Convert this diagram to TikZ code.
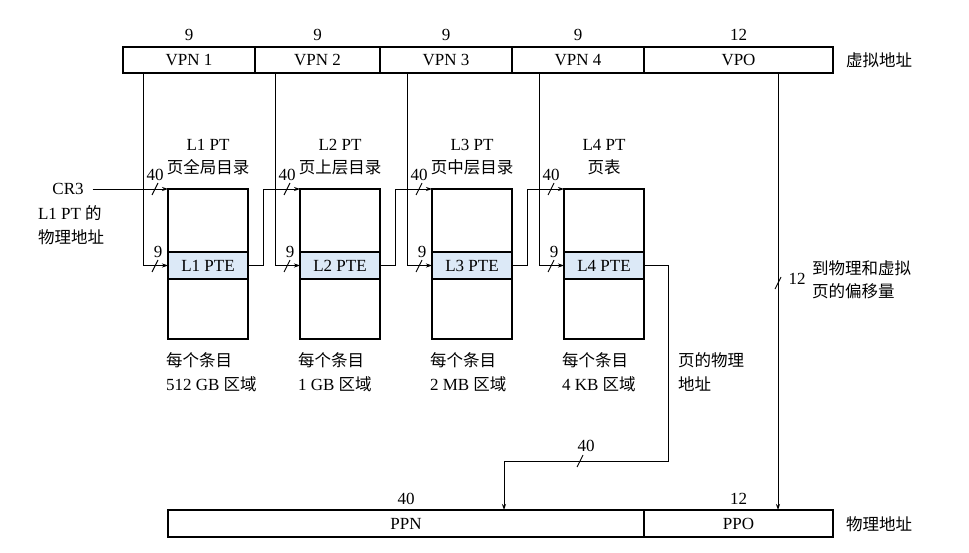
\documentclass[tikz,border=0pt]{standalone}
\usepackage{fontspec}
\setmainfont{Liberation Serif}
\newfontfamily\cjk{Noto Sans CJK SC}
\usetikzlibrary{arrows.meta,calc}
\definecolor{pteblue}{RGB}{220,233,247}
\newcommand{\lat}{\fontsize{17}{19}\selectfont}
\newcommand{\zh}[1]{{\cjk\fontsize{16.5}{19}\selectfont #1}}
\begin{document}
\begin{tikzpicture}[x=1pt,y=-1pt,
  every node/.style={inner sep=0pt,outer sep=0pt,font=\lat},
  cell/.style={draw,line width=1.3pt,minimum height=26pt},
  tbl/.style={draw,line width=1.6pt,minimum width=80pt},
  ptebox/.style={tbl,fill=pteblue,minimum height=27pt},
  conn/.style={line width=0.9pt},
  arr/.style={conn,-{Stealth[length=6pt,width=4pt]}},
  slash/.pic={\draw[line width=0.9pt] (-3,6) -- (3,-6);}
]
\useasboundingbox (0,0) rectangle (969,553);

% virtual address bar
\node[cell,minimum width=132pt] (vpn1) at (189,60) {VPN 1};
\node[cell,minimum width=125pt] (vpn2) at (317.5,60) {VPN 2};
\node[cell,minimum width=132pt] (vpn3) at (446,60) {VPN 3};
\node[cell,minimum width=132pt] (vpn4) at (578,60) {VPN 4};
\node[cell,minimum width=189pt] (vpo) at (738.5,60) {VPO};
\node (b1) at (189,35) {9};
\node (b2) at (317.5,35) {9};
\node (b3) at (446,35) {9};
\node (b4) at (578,35) {9};
\node (b5) at (738.5,35) {12};
\node[anchor=west] (va) at (846,60) {\zh{虚拟地址}};

% page tables
\foreach \i/\x/\nm/\sz in {1/208/页全局目录/512 GB,2/340/页上层目录/1 GB,3/472/页中层目录/2 MB,4/604/页表/4 KB}{
  \node[tbl,minimum height=63pt] (tt\i) at (\x,220.5) {};
  \node[ptebox] (pe\i) at (\x,265.5) {L\i\ PTE};
  \node[tbl,minimum height=60pt] (tb\i) at (\x,309) {};
  \node (h\i) at (\x,145) {L\i\ PT};
  \node (z\i) at (\x,167) {\zh{\nm}};
  \node (f\i) at (\x-53,175) {40};
  \node (g\i) at (\x-50,252) {9};
  \pic at (\x-53,189) {slash};
  \pic at (\x-53,266) {slash};
  \node[anchor=west] (e\i) at (\x-42,360) {\zh{每个条目}};
  \node[anchor=west] (s\i) at (\x-42,384) {\sz\ \zh{区域}};
  \coordinate (v\i) at ([xshift=-25pt]tt\i.north west);
  \draw[arr] (v\i |- vpn\i.south) |- (pe\i.west);
}
\foreach \i/\j in {1/2,2/3,3/4}{
  \draw[arr] (pe\i.east) -- ++(15,0) |- (tt\j.north west);
}

% CR3
\node (cr3) at (68,189) {CR3};
\node[anchor=west] (cr3a) at (38,213) {L1 PT \zh{的}};
\node[anchor=west] (cr3b) at (38,237) {\zh{物理地址}};
\draw[arr] ([xshift=9pt]cr3.east) -- (tt1.north west);

% physical address bar
\node[cell,minimum width=476pt,minimum height=27pt] (ppn) at (406,523.5) {PPN};
\node[cell,minimum width=189pt,minimum height=27pt] (ppo) at (738.5,523.5) {PPO};
\node (p1) at (406,499) {40};
\node (p2) at (738.5,499) {12};
\node[anchor=west] (pa) at (846,524) {\zh{物理地址}};

% L4 PTE -> PPN
\draw[arr] (pe4.east) -- ++(24,0) -- ++(0,195.5) -| ([xshift=98pt]ppn.north);
\pic at (580,461) {slash};
\node (q1) at (586,446) {40};
\node[anchor=west] (pp1) at (678,360) {\zh{页的物理}};
\node[anchor=west] (pp2) at (678,384) {\zh{地址}};

% VPO -> PPO
\draw[arr] ([xshift=39.5pt]vpo.south) -- ([xshift=39.5pt]ppo.north);
\pic at (778,283) {slash};
\node (q2) at (797,279) {12};
\node[anchor=west] (o1) at (812,268) {\zh{到物理和虚拟}};
\node[anchor=west] (o2) at (812,291) {\zh{页的偏移量}};
\end{tikzpicture}
\end{document}
